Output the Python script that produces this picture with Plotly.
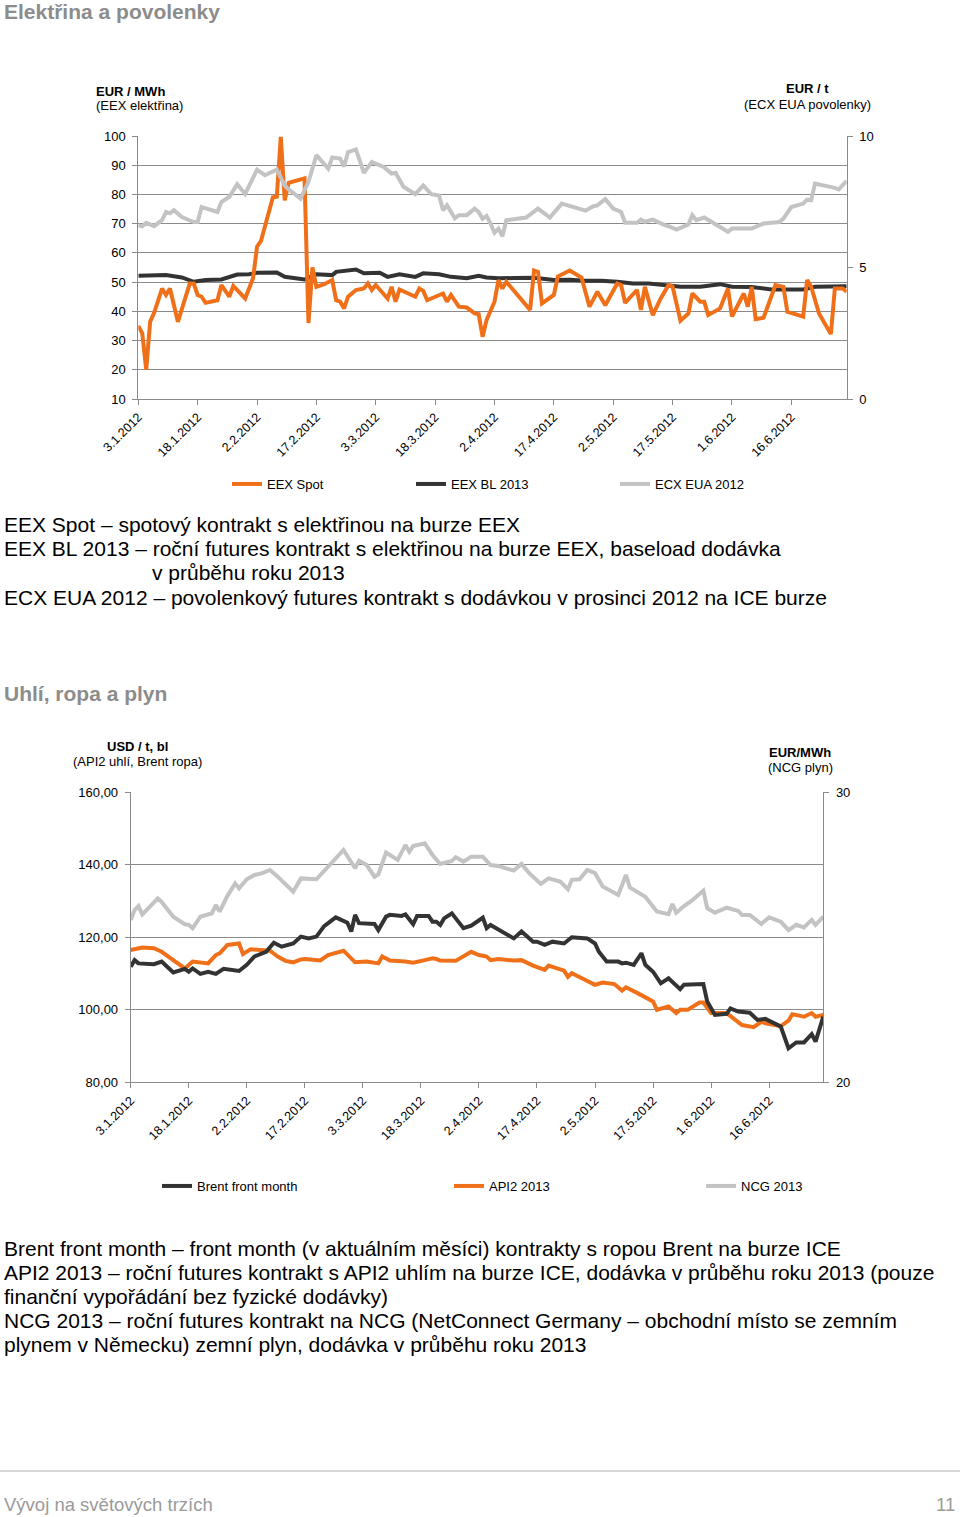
import plotly.graph_objects as go

YEAR = "2012"

# ---------------- Chart 1: Elektřina a povolenky ----------------
spot_dates = [
    "01-03", "01-04", "01-05", "01-06", "01-07", "01-09", "01-10", "01-11", "01-13", "01-16",
    "01-17", "01-18", "01-19", "01-20", "01-23", "01-24", "01-26", "01-27", "01-30", "02-01",
    "02-02", "02-03", "02-06", "02-07", "02-08", "02-09", "02-10", "02-13", "02-14", "02-15",
    "02-16", "02-17", "02-19", "02-21", "02-22", "02-23", "02-24", "02-25", "02-27", "02-29",
    "03-01", "03-02", "03-03", "03-06", "03-07", "03-08", "03-09", "03-13", "03-14", "03-15",
    "03-16", "03-20", "03-21", "03-22", "03-24", "03-26", "03-28", "03-29", "03-30", "03-31",
    "04-02", "04-03", "04-04", "04-05", "04-11", "04-12", "04-13", "04-14", "04-17", "04-18",
    "04-20", "04-21", "04-24", "04-25", "04-26", "04-28", "04-30", "05-03", "05-04", "05-05",
    "05-08", "05-09", "05-10", "05-12", "05-14", "05-16", "05-17", "05-19", "05-21", "05-22",
    "05-24", "05-25", "05-26", "05-29", "05-31", "06-01", "06-04", "06-05", "06-06", "06-07",
    "06-09", "06-12", "06-14", "06-15", "06-19", "06-20", "06-21", "06-23", "06-26", "06-27",
    "06-29", "06-30",
]
spot_vals = [
    35, 32.5, 20, 36.5, 39.5, 47.8, 45.6, 47.8, 36.4, 49.5,
    49.5, 45.6, 45, 42.9, 43.8, 49, 45, 48.7, 44.4, 51.3,
    62.1, 64.1, 79, 79.2, 99.7, 78, 84, 85, 85.5, 36,
    55, 48.4, 49.3, 50.7, 43.8, 43.3, 41, 45, 47.3, 47.8,
    49.5, 47.3, 49, 44.4, 48.4, 43.3, 47.5, 45, 47.8, 47,
    43.8, 46.1, 43.3, 45.6, 41.6, 41.3, 39.3, 39, 31.3, 37,
    43.3, 50.7, 47.8, 50.1, 40.5, 54, 53.5, 42.7, 45.6, 51.9,
    53.5, 54, 51.6, 46.1, 41.6, 46.7, 42.1, 49.5, 49, 42.9,
    47.3, 40.5, 48.4, 38.7, 44.4, 49, 48.5, 36.8, 39.3, 46.1,
    43.3, 43.3, 38.7, 41, 47.8, 38.2, 46.1, 41.6, 48.4, 37.3,
    37.8, 49, 48.4, 39.9, 38.2, 50.7, 48.5, 39.3, 32.2, 47.8,
    47.8, 46.7,
]

bl_dates = [
    "01-03", "01-06", "01-10", "01-14", "01-17", "01-20", "01-24", "01-28", "01-31", "02-02",
    "02-07", "02-09", "02-14", "02-17", "02-21", "02-22", "02-27", "02-29", "03-04", "03-06",
    "03-09", "03-13", "03-15", "03-19", "03-22", "03-26", "03-29", "03-31", "04-03", "04-07",
    "04-12", "04-17", "04-21", "04-25", "04-29", "05-03", "05-07", "05-11", "05-15", "05-19",
    "05-24", "05-29", "06-01", "06-06", "06-11", "06-16", "06-19", "06-22", "06-27", "06-30",
]
bl_vals = [
    52.2, 52.4, 52.4, 51.6, 50.1, 50.7, 50.9, 52.6, 52.7, 53.2,
    53.3, 51.8, 50.9, 52.7, 52.4, 53.5, 54.3, 53, 53.2, 51.8,
    52.7, 51.8, 53, 52.7, 51.8, 51.3, 52.2, 51.6, 51.3, 51.4,
    51.5, 50.7, 50.8, 50.5, 50.5, 50.1, 49.5, 49.5, 49, 48.4,
    48.4, 49.3, 48.4, 48.3, 47.5, 47.5, 47.5, 48.4, 48.6, 48.6,
]

eua_dates = [
    "01-03", "01-04", "01-05", "01-07", "01-09", "01-10", "01-11", "01-12", "01-14", "01-17",
    "01-18", "01-19", "01-23", "01-24", "01-26", "01-28", "01-30", "02-02", "02-04", "02-07",
    "02-09", "02-10", "02-13", "02-15", "02-17", "02-20", "02-21", "02-23", "02-24", "02-25",
    "02-27", "02-29", "03-02", "03-05", "03-07", "03-08", "03-10", "03-13", "03-15", "03-17",
    "03-19", "03-20", "03-21", "03-23", "03-24", "03-26", "03-28", "03-29", "03-30", "03-31",
    "04-01", "04-02", "04-03", "04-04", "04-05", "04-10", "04-13", "04-16", "04-19", "04-24",
    "04-25", "04-27", "04-28", "04-30", "05-02", "05-04", "05-05", "05-08", "05-09", "05-10",
    "05-12", "05-15", "05-16", "05-18", "05-21", "05-22", "05-23", "05-25", "05-27", "05-31",
    "06-01", "06-06", "06-09", "06-13", "06-14", "06-16", "06-19", "06-20", "06-21", "06-22",
    "06-27", "06-28", "06-30",
]
eua_vals = [
    6.61, 6.57, 6.70, 6.57, 6.80, 7.11, 7.06, 7.18, 6.92, 6.73,
    6.73, 7.30, 7.11, 7.49, 7.69, 8.17, 7.79, 8.72, 8.51, 8.72,
    8.12, 7.97, 7.62, 8.26, 9.27, 8.76, 9.18, 9.14, 8.84, 9.39,
    9.49, 8.60, 9.01, 8.82, 8.57, 8.60, 8.07, 7.79, 8.12, 7.79,
    7.74, 7.18, 7.37, 6.87, 6.99, 6.99, 7.24, 7.11, 6.85, 6.96,
    6.67, 6.32, 6.48, 6.19, 6.80, 6.90, 7.24, 6.90, 7.43, 7.18,
    7.16, 7.33, 7.36, 7.60, 7.24, 7.11, 6.70, 6.70, 6.82, 6.74,
    6.82, 6.61, 6.57, 6.44, 6.64, 6.99, 6.80, 6.90, 6.73, 6.36,
    6.48, 6.48, 6.67, 6.73, 6.86, 7.30, 7.43, 7.58, 7.56, 8.19,
    8.03, 7.97, 8.29,
]

# ---------------- Chart 2: Uhlí, ropa a plyn ----------------
brent_dates = [
    "01-03", "01-04", "01-05", "01-09", "01-11", "01-14", "01-17", "01-18", "01-19", "01-21",
    "01-23", "01-25", "01-27", "01-31", "02-02", "02-04", "02-07", "02-09", "02-11", "02-14",
    "02-16", "02-18", "02-20", "02-22", "02-25", "02-28", "02-29", "03-01", "03-02", "03-06",
    "03-07", "03-09", "03-10", "03-13", "03-14", "03-16", "03-17", "03-20", "03-21", "03-22",
    "03-23", "03-24", "03-26", "03-29", "03-31", "04-03", "04-04", "04-05", "04-11", "04-13",
    "04-16", "04-17", "04-19", "04-21", "04-24", "04-26", "04-30", "05-02", "05-03", "05-05",
    "05-08", "05-09", "05-10", "05-12", "05-14", "05-15", "05-17", "05-19", "05-21", "05-24",
    "05-25", "05-30", "05-31", "06-02", "06-05", "06-06", "06-08", "06-11", "06-13", "06-15",
    "06-19", "06-21", "06-23", "06-25", "06-27", "06-28", "06-30",
]
brent_vals = [
    111.9, 113.7, 112.8, 112.6, 113.3, 110.3, 111.3, 110.5, 111.4, 109.9,
    110.5, 109.9, 111.3, 110.7, 112.4, 114.7, 116, 118.5, 117.4, 118.3,
    120.2, 119.7, 120.2, 123.1, 125.5, 124, 121.6, 126.2, 123.9, 123.7,
    122, 125.7, 126.2, 125.9, 126.3, 123.6, 125.9, 125.9, 124.3, 124.3,
    123.4, 125.2, 126.6, 122.5, 123.2, 125.4, 122.5, 123.4, 119.7, 121.6,
    118.8, 118.8, 117.9, 118.8, 118.3, 120, 119.7, 118.3, 116, 113.3,
    113.3, 112.8, 113, 112.4, 115.6, 112.4, 110.5, 107.3, 108.7, 105.7,
    106.9, 107.1, 102.3, 98.6, 98.9, 100.4, 99.5, 99.2, 97.2, 97.5,
    95.4, 89.4, 91, 91, 93.3, 91.2, 98.1,
]

api2_dates = [
    "01-03", "01-06", "01-09", "01-11", "01-14", "01-17", "01-19", "01-23", "01-25", "01-26",
    "01-28", "01-31", "02-01", "02-03", "02-08", "02-10", "02-12", "02-14", "02-16", "02-17",
    "02-21", "02-23", "02-27", "03-01", "03-04", "03-07", "03-08", "03-10", "03-14", "03-16",
    "03-19", "03-21", "03-22", "03-23", "03-27", "03-29", "03-31", "04-02", "04-04", "04-05",
    "04-07", "04-11", "04-13", "04-16", "04-19", "04-20", "04-24", "04-25", "04-26", "04-29",
    "05-02", "05-04", "05-07", "05-09", "05-10", "05-13", "05-17", "05-18", "05-21", "05-23",
    "05-24", "05-26", "05-29", "05-30", "06-01", "06-05", "06-07", "06-09", "06-12", "06-14",
    "06-15", "06-19", "06-21", "06-22", "06-25", "06-27", "06-28", "06-30",
]
api2_vals = [
    116.5, 117.2, 117, 116, 113.7, 111.4, 113.3, 112.8, 115.1, 115.6,
    117.9, 118.3, 115.4, 116.7, 116.3, 114.7, 113.5, 113.1, 113.9, 114,
    113.6, 115.1, 116.3, 113.1, 113.3, 112.8, 114.7, 113.6, 113.3, 113,
    113.7, 114.2, 114, 113.6, 113.5, 114.7, 116, 115.1, 114.7, 113.7,
    114, 113.6, 113.7, 112.2, 111, 112.2, 110.8, 109.1, 110.1, 108.5,
    106.9, 107.5, 107.1, 105.3, 106.2, 104.6, 102.3, 100, 100.9, 99.1,
    100, 100, 102, 102, 99.1, 99.1, 97.4, 95.8, 95.2, 96.7,
    96.3, 95.5, 97, 98.8, 98.1, 99.1, 98.1, 98.6,
]

ncg_dates = [
    "01-03", "01-04", "01-05", "01-06", "01-10", "01-11", "01-14", "01-17", "01-18", "01-19",
    "01-21", "01-24", "01-25", "01-26", "01-28", "01-30", "01-31", "02-02", "02-04", "02-06",
    "02-08", "02-10", "02-14", "02-16", "02-20", "02-23", "02-24", "02-27", "03-01", "03-02",
    "03-04", "03-06", "03-07", "03-09", "03-12", "03-14", "03-15", "03-16", "03-19", "03-21",
    "03-23", "03-26", "03-27", "03-29", "03-31", "04-03", "04-05", "04-07", "04-11", "04-13",
    "04-15", "04-18", "04-20", "04-23", "04-25", "04-26", "04-28", "04-30", "05-02", "05-04",
    "05-08", "05-10", "05-11", "05-15", "05-18", "05-21", "05-22", "05-23", "05-25", "05-27",
    "05-30", "05-31", "06-02", "06-05", "06-08", "06-09", "06-11", "06-14", "06-16", "06-19",
    "06-21", "06-23", "06-25", "06-27", "06-28", "06-30",
]
ncg_vals = [
    25.6, 25.94, 26.08, 25.79, 26.34, 26.22, 25.71, 25.45, 25.43, 25.31,
    25.71, 25.83, 26.11, 25.89, 26.43, 26.86, 26.69, 27, 27.15, 27.21,
    27.32, 27.09, 26.57, 27.03, 27, 27.44, 27.61, 28.01, 27.38, 27.64,
    27.49, 27.09, 27.17, 27.92, 27.67, 28.18, 27.95, 28.15, 28.24, 27.84,
    27.53, 27.63, 27.76, 27.61, 27.78, 27.78, 27.49, 27.46, 27.3, 27.53,
    27.21, 26.84, 27.03, 26.92, 26.66, 26.98, 27, 27.32, 27.21, 26.75,
    26.46, 27.15, 26.72, 26.4, 25.89, 25.8, 26.15, 25.85, 26.08, 26.26,
    26.61, 26, 25.85, 26.02, 25.91, 25.77, 25.77, 25.46, 25.69, 25.54,
    25.25, 25.43, 25.34, 25.6, 25.43, 25.71,
]

tick_dates = ["01-03", "01-18", "02-02", "02-17", "03-03", "03-18",
              "04-02", "04-17", "05-02", "05-17", "06-01", "06-16"]
tick_labels = ["3.1.2012", "18.1.2012", "2.2.2012", "17.2.2012", "3.3.2012", "18.3.2012",
               "2.4.2012", "17.4.2012", "2.5.2012", "17.5.2012", "1.6.2012", "16.6.2012"]

notes_power = [
    "EEX Spot – spotový kontrakt s elektřinou na burze EEX",
    "EEX BL 2013 – roční futures kontrakt s elektřinou na burze EEX, baseload dodávka",
    "v průběhu roku 2013",
    "ECX EUA 2012 – povolenkový futures kontrakt s dodávkou v prosinci 2012 na ICE burze",
]
notes_fuel = [
    "Brent front month – front month (v aktuálním měsíci) kontrakty s ropou Brent na burze ICE",
    "API2 2013 – roční futures kontrakt s API2 uhlím na burze ICE, dodávka v průběhu roku 2013 (pouze",
    "finanční vypořádání bez fyzické dodávky)",
    "NCG 2013 – roční futures kontrakt na NCG (NetConnect Germany – obchodní místo se zemním",
    "plynem v Německu) zemní plyn, dodávka v průběhu roku 2013",
]

for a, b in [(spot_dates, spot_vals), (bl_dates, bl_vals), (eua_dates, eua_vals),
             (brent_dates, brent_vals), (api2_dates, api2_vals), (ncg_dates, ncg_vals)]:
    assert len(a) == len(b), (len(a), len(b))


def full(ds):
    return [f"{YEAR}-{d}" for d in ds]


# ---------------- Styling / layout helpers ----------------
W, H = 960, 1517


def px(x):
    return x / W


def py(y):
    return 1 - y / H


FONT = "Liberation Sans, Arial, Helvetica, sans-serif"
ORANGE = "#F0701A"
DARK = "#333333"
LGRAY = "#C3C3C3"
GRID = "#8A8A8A"
TITLE_GRAY = "#8C8C8C"
LW = 4

fig = go.Figure()

# top chart traces
fig.add_trace(go.Scatter(x=full(eua_dates), y=eua_vals, xaxis="x", yaxis="y2", mode="lines",
                         name="ECX EUA 2012", line=dict(color=LGRAY, width=LW), legend="legend3"))
fig.add_trace(go.Scatter(x=full(bl_dates), y=bl_vals, xaxis="x", yaxis="y", mode="lines",
                         name="EEX BL 2013", line=dict(color=DARK, width=LW), legend="legend2"))
fig.add_trace(go.Scatter(x=full(spot_dates), y=spot_vals, xaxis="x", yaxis="y", mode="lines",
                         name="EEX Spot", line=dict(color=ORANGE, width=LW), legend="legend7"))

# bottom chart traces
fig.add_trace(go.Scatter(x=full(ncg_dates), y=ncg_vals, xaxis="x2", yaxis="y4", mode="lines",
                         name="NCG 2013", line=dict(color=LGRAY, width=LW), legend="legend6"))
fig.add_trace(go.Scatter(x=full(api2_dates), y=api2_vals, xaxis="x2", yaxis="y3", mode="lines",
                         name="API2 2013", line=dict(color=ORANGE, width=LW), legend="legend5"))
fig.add_trace(go.Scatter(x=full(brent_dates), y=brent_vals, xaxis="x2", yaxis="y3", mode="lines",
                         name="Brent front month", line=dict(color=DARK, width=LW), legend="legend4"))

tickfont = dict(family=FONT, size=13, color="#000000")
xcommon = dict(type="date", range=[f"{YEAR}-01-03", f"{YEAR}-06-30"],
               tickmode="array", tickvals=full(tick_dates), ticktext=tick_labels,
               tickangle=-45, ticks="outside", ticklen=5, tickcolor=GRID,
               showline=True, linecolor=GRID, linewidth=1, showgrid=False,
               tickfont=dict(family=FONT, size=12.5, color="#000000"), automargin=False)
ycommon = dict(showline=True, linecolor=GRID, linewidth=1, ticks="outside", ticklen=5,
               tickcolor=GRID, zeroline=False, tickfont=tickfont, automargin=False,
               ticklabelstandoff=4)

top_dom = [py(399), py(136)]
bot_dom = [py(1082.3), py(792.3)]

fig.update_layout(
    width=W, height=H,
    margin=dict(l=0, r=0, t=0, b=0, pad=0, autoexpand=False),
    paper_bgcolor="white", plot_bgcolor="white",
    font=dict(family=FONT, size=13, color="#000000"),
    separators=", ",
    showlegend=True,
    xaxis=dict(domain=[px(138.3), px(846.7)], anchor="y", **xcommon),
    yaxis=dict(domain=top_dom, anchor="x", range=[10, 100], tick0=10, dtick=10,
               showgrid=True, gridcolor=GRID, gridwidth=1, **ycommon),
    yaxis2=dict(overlaying="y", anchor="x", side="right", range=[0, 10],
                tickvals=[0, 5, 10], showgrid=False, **ycommon),
    xaxis2=dict(domain=[px(130.7), px(823.3)], anchor="y3", **xcommon),
    yaxis3=dict(domain=bot_dom, anchor="x2", range=[80, 160], tick0=80, dtick=20,
                tickformat=".2f", showgrid=True, gridcolor=GRID, gridwidth=1, **ycommon),
    yaxis4=dict(overlaying="y3", anchor="x2", side="right", range=[20, 30],
                tickvals=[20, 30], showgrid=False, **ycommon),
    hovermode=False,
)

# one legend per entry so each sits where the original puts it
legend_pos = {
    "legend7": (227, 484), "legend2": (411, 484), "legend3": (615, 484),
    "legend4": (157, 1186), "legend5": (449, 1186), "legend6": (701, 1186),
}
fig.update_layout(legend=dict(visible=False))
for key, (lx, ly) in legend_pos.items():
    fig.update_layout({key: dict(x=px(lx), y=py(ly), xanchor="left", yanchor="middle",
                                 xref="paper", yref="paper",
                                 orientation="h", bgcolor="rgba(0,0,0,0)", borderwidth=0,
                                 font=dict(family=FONT, size=13, color="#000000"),
                                 itemwidth=30)})

ann = []


def text(x, y, s, size, color="#000000", anchor="left", bold=False):
    ann.append(dict(x=px(x), y=py(y), xref="paper", yref="paper", text=f"<b>{s}</b>" if bold else s,
                    showarrow=False, xanchor=anchor, yanchor="middle", borderpad=0,
                    font=dict(family=FONT, size=size, color=color)))


# section titles
text(3, 12, "Elektřina a povolenky", 21, TITLE_GRAY, bold=True)
text(3, 693, "Uhlí, ropa a plyn", 21, TITLE_GRAY, bold=True)

# axis titles, chart 1
text(95, 91, "EUR / MWh", 13, bold=True)
text(95, 106, "(EEX elektřina)", 13)
text(807, 88, "EUR / t", 13, anchor="center", bold=True)
text(807, 104, "(ECX EUA povolenky)", 13, anchor="center")

# axis titles, chart 2
text(137, 746, "USD / t, bl", 13, anchor="center", bold=True)
text(137, 761, "(API2 uhlí, Brent ropa)", 13, anchor="center")
text(800, 752, "EUR/MWh", 13, anchor="center", bold=True)
text(800, 767, "(NCG plyn)", 13, anchor="center")

# explanatory notes
for s, x, y in zip(notes_power, [3, 3, 151, 3], [524, 548, 572, 597]):
    text(x, y, s, 21)
for s, y in zip(notes_fuel, [1248, 1272, 1296, 1320, 1344]):
    text(3, y, s, 21)

# footer
text(3, 1504, "Vývoj na světových trzích", 18.5, "#9A9A9A")
text(956, 1504, "11", 18.5, "#9A9A9A", anchor="right")

fig.update_layout(annotations=ann,
                  shapes=[dict(type="line", xref="paper", yref="paper", x0=0, x1=1,
                               y0=py(1471), y1=py(1471), line=dict(color="#C8C8C8", width=1.5))])

# remove the browser's default 8px page margin so the figure sits at the window origin
fig.write_html("out.html", config={"displayModeBar": False},
               post_script="document.body.style.margin='0';")
